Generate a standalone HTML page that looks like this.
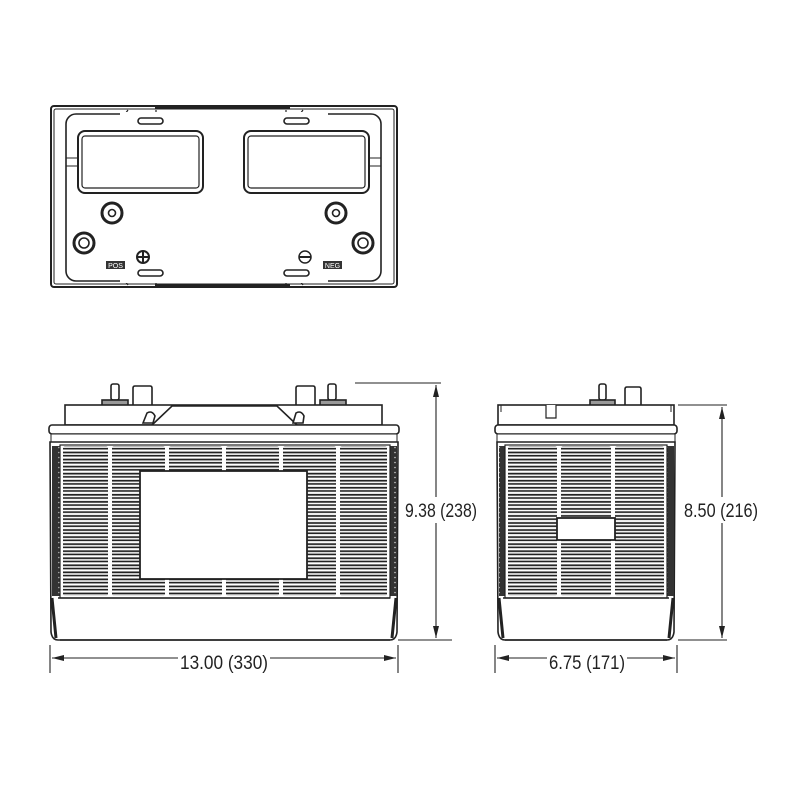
<!DOCTYPE html>
<html><head><meta charset="utf-8"><style>
html,body{margin:0;padding:0;background:#fff;width:800px;height:800px;overflow:hidden}
text{font-family:"Liberation Sans Narrow","Liberation Sans",sans-serif;fill:#222}
</style></head><body>
<svg width="800" height="800" viewBox="0 0 800 800" xmlns="http://www.w3.org/2000/svg">
<defs>
<pattern id="vent" patternUnits="userSpaceOnUse" x="0" y="447.5" width="1000" height="7.05">
<rect x="-5" y="1.2" width="1010" height="3.8" rx="1.9" fill="#fff" stroke="#222" stroke-width="1.7"/>
</pattern>
<pattern id="dots" patternUnits="userSpaceOnUse" width="8" height="5">
<rect width="8" height="5" fill="#333"/><circle cx="3" cy="2.5" r="0.8" fill="#ccc"/>
</pattern>
<marker id="ar" viewBox="0 0 12 6" refX="12" refY="3" markerWidth="12" markerHeight="6" orient="auto-start-reverse" markerUnits="userSpaceOnUse"><path d="M0,0 L12,3 L0,6z" fill="#222"/></marker>
</defs>
<g fill="none" stroke="#222" stroke-width="1.6">
<!-- TOP VIEW -->
<rect x="51" y="106" width="346" height="181" rx="3" stroke-width="2"/>
<rect x="54" y="109" width="340" height="175" rx="2" stroke-width="1"/>
<path d="M155,107 H290 M155,286 H290" stroke-width="3"/>
<rect x="66" y="114" width="315" height="167" rx="10"/>
<path d="M125,114 L128,110 M156,110 V114 M286,110 V114 M300,114 L303,110 M125,281 L128,285 M156,285 V281 M286,285 V281 M300,281 L303,285" stroke-width="1.2"/>
<rect x="120" y="112" width="208" height="4" fill="#fff" stroke="none"/>
<rect x="120" y="279" width="208" height="4" fill="#fff" stroke="none"/>
<path d="M66,158 H78 M66,166 H78 M381,158 H369 M381,166 H369" stroke-width="1"/>
<rect x="138" y="118" width="25" height="6" rx="3"/><rect x="284" y="118" width="25" height="6" rx="3"/>
<rect x="138" y="270" width="25" height="6" rx="3"/><rect x="284" y="270" width="25" height="6" rx="3"/>
<rect x="78" y="131" width="125" height="62" rx="7" stroke-width="2"/>
<rect x="82" y="136" width="117" height="52" rx="3" stroke-width="1.2"/>
<rect x="244" y="131" width="125" height="62" rx="7" stroke-width="2"/>
<rect x="248" y="136" width="117" height="52" rx="3" stroke-width="1.2"/>
<circle cx="112" cy="213" r="10" stroke-width="3"/><circle cx="112" cy="213" r="3.5"/>
<circle cx="336" cy="213" r="10" stroke-width="3"/><circle cx="336" cy="213" r="3.5"/>
<circle cx="84" cy="243" r="10" stroke-width="3"/><circle cx="84" cy="243" r="5"/>
<circle cx="363" cy="243" r="10" stroke-width="3"/><circle cx="363" cy="243" r="5"/>
<circle cx="143" cy="257" r="6" stroke-width="2"/><path d="M137,257 H149 M143,251 V263" stroke-width="2"/>
<circle cx="305" cy="257" r="6" stroke-width="1.5"/><path d="M299,257 H311" stroke-width="2"/>
</g>
<rect x="106" y="261" width="19" height="8" fill="#333"/><text x="115.5" y="268" font-size="7" text-anchor="middle" style="fill:#fff">POS</text>
<rect x="323" y="261" width="19" height="8" fill="#333"/><text x="332.5" y="268" font-size="7" text-anchor="middle" style="fill:#fff">NEG</text>

<!-- FRONT VIEW -->
<g stroke="#222" stroke-width="1.6" fill="#fff">
<rect x="111" y="384" width="8" height="16" rx="2"/><rect x="328" y="384" width="8" height="16" rx="2"/>
<rect x="102" y="400" width="26" height="6" fill="#999"/><rect x="320" y="400" width="26" height="6" fill="#999"/>
<path d="M133,405 V388 Q133,386 135,386 H150 Q152,386 152,388 V405"/>
<path d="M296,405 V388 Q296,386 298,386 H313 Q315,386 315,388 V405"/>
<rect x="65" y="405" width="317" height="20"/>
<path d="M152,425 L172,406 H277 L297,425" fill="#fff"/>
<path d="M143,423 L147,413 Q152,410 155,416 L153,423Z"/><path d="M293,423 L296,413 Q301,410 304,416 L303,423Z"/>
<rect x="49" y="425" width="350" height="9" rx="3"/>
<rect x="51" y="434" width="346" height="8" stroke-width="1"/>
<path d="M50,442 H398 L397,632 Q396,640 390,640 H58 Q52,640 51,632 Z"/>
</g>
<rect x="52" y="446" width="8" height="150" fill="url(#dots)"/><rect x="389" y="446" width="8" height="150" fill="url(#dots)"/>
<path d="M52,598 L56,638 M396,598 L392,638" stroke="#222" stroke-width="3" fill="none"/>
<rect x="60" y="445" width="330" height="153" fill="#fff" stroke="#222" stroke-width="1.2"/>
<g fill="url(#vent)">
<rect x="63" y="446" width="45" height="150" rx="2"/><rect x="112" y="446" width="53" height="150" rx="2"/>
<rect x="169" y="446" width="53" height="150" rx="2"/><rect x="226" y="446" width="53" height="150" rx="2"/>
<rect x="283" y="446" width="53" height="150" rx="2"/><rect x="340" y="446" width="47" height="150" rx="2"/>
</g>
<rect x="140" y="471" width="167" height="108" fill="#fff" stroke="#222" stroke-width="1.8"/>
<path d="M58,598 H390 M60,640 H390" stroke="#222" stroke-width="1.5"/>

<!-- SIDE VIEW -->
<g stroke="#222" stroke-width="1.6" fill="#fff">
<rect x="599" y="384" width="7" height="16" rx="2"/><rect x="590" y="400" width="25" height="6" fill="#999"/>
<path d="M625,405 V389 Q625,387 627,387 H639 Q641,387 641,389 V405"/>
<rect x="498" y="405" width="176" height="20"/>
<path d="M546,405 V418 H556 V405" stroke-width="1.2"/>
<path d="M501,405 V412 M671,405 V412" stroke-width="1"/>
<rect x="495" y="425" width="182" height="9" rx="3"/>
<rect x="497" y="434" width="178" height="8" stroke-width="1"/>
<path d="M497,442 H675 L674,632 Q673,640 667,640 H505 Q499,640 498,632 Z"/>
</g>
<rect x="499" y="446" width="7" height="150" fill="url(#dots)"/><rect x="667" y="446" width="7" height="150" fill="url(#dots)"/>
<path d="M499,598 L503,638 M673,598 L669,638" stroke="#222" stroke-width="3" fill="none"/>
<rect x="505" y="445" width="162" height="153" fill="#fff" stroke="#222" stroke-width="1.2"/>
<g fill="url(#vent)">
<rect x="508" y="446" width="49" height="150" rx="2"/><rect x="561" y="446" width="50" height="150" rx="2"/><rect x="615" y="446" width="49" height="150" rx="2"/>
</g>
<rect x="557" y="518" width="58" height="22" fill="#fff" stroke="#222" stroke-width="1.8"/>
<path d="M503,598 H669 M505,640 H667" stroke="#222" stroke-width="1.5"/>

<!-- DIMENSIONS -->
<g stroke="#222" stroke-width="1.1" fill="none">
<path d="M355,383 H441 M398,640 H452 M50,645 V673 M398,645 V673 M678,405 H727 M678,640 H727 M495,645 V673 M677,645 V673"/>
<path d="M436,385 V638" marker-start="url(#ar)" marker-end="url(#ar)"/>
<path d="M52,658 H396" marker-start="url(#ar)" marker-end="url(#ar)"/>
<path d="M722,407 V638" marker-start="url(#ar)" marker-end="url(#ar)"/>
<path d="M497,658 H675" marker-start="url(#ar)" marker-end="url(#ar)"/>
</g>
<rect x="404" y="497" width="74" height="26" fill="#fff"/>
<text x="405" y="517" font-size="19" textLength="72" lengthAdjust="spacingAndGlyphs">9.38 (238)</text>
<rect x="683" y="497" width="76" height="26" fill="#fff"/>
<text x="684" y="517" font-size="19" textLength="74" lengthAdjust="spacingAndGlyphs">8.50 (216)</text>
<rect x="178" y="647" width="92" height="24" fill="#fff"/>
<text x="180" y="669" font-size="19" textLength="88" lengthAdjust="spacingAndGlyphs">13.00 (330)</text>
<rect x="547" y="647" width="80" height="24" fill="#fff"/>
<text x="549" y="669" font-size="19" textLength="76" lengthAdjust="spacingAndGlyphs">6.75 (171)</text>
</svg>
</body></html>
